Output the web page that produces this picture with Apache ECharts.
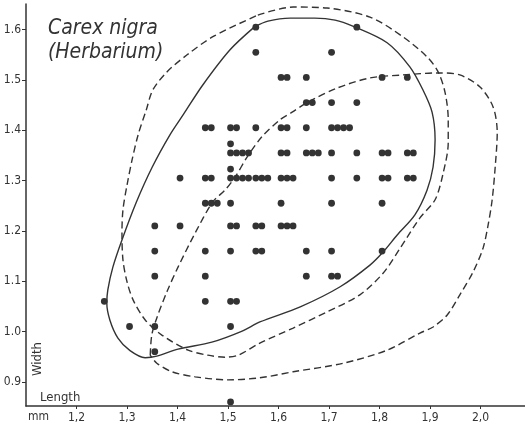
<!DOCTYPE html>
<html>
<head>
<meta charset="utf-8">
<script src="https://cdn.jsdelivr.net/npm/echarts@6/dist/echarts.min.js"></script>
<style>
  html, body { margin: 0; padding: 0; background: #fff; }
  #chart { width: 525px; height: 429px; }
</style>
</head>
<body>
<div id="chart"></div>
<script>
// Axis tick positions
const lengthTicks = [1.2, 1.3, 1.4, 1.5, 1.6, 1.7, 1.8, 1.9, 2.0];
const widthTicks = [0.9, 1.0, 1.1, 1.2, 1.3, 1.4, 1.5, 1.6];

// Measured seeds: [length mm, width mm, number of seeds with these dimensions]
const dots = [
  [1.555, 1.605, 1], [1.755, 1.605, 1],
  [1.555, 1.555, 1], [1.705, 1.555, 1],
  [1.605, 1.505, 2], [1.655, 1.505, 1], [1.805, 1.505, 1], [1.855, 1.505, 1],
  [1.655, 1.455, 2], [1.705, 1.455, 1], [1.755, 1.455, 1],
  [1.455, 1.405, 2], [1.505, 1.405, 2], [1.555, 1.405, 1], [1.605, 1.405, 2], [1.655, 1.405, 1], [1.705, 1.405, 4],
  [1.505, 1.373, 1],
  [1.505, 1.355, 4], [1.605, 1.355, 2], [1.655, 1.355, 3], [1.705, 1.355, 1], [1.755, 1.355, 1], [1.805, 1.355, 2], [1.855, 1.355, 2],
  [1.505, 1.323, 1],
  [1.405, 1.305, 1], [1.455, 1.305, 2], [1.505, 1.305, 4], [1.555, 1.305, 3], [1.605, 1.305, 3], [1.705, 1.305, 1], [1.755, 1.305, 1], [1.805, 1.305, 2], [1.855, 1.305, 2],
  [1.455, 1.255, 3], [1.505, 1.255, 1], [1.605, 1.255, 1], [1.705, 1.255, 1], [1.805, 1.255, 1],
  [1.355, 1.21, 1], [1.405, 1.21, 1], [1.505, 1.21, 2], [1.555, 1.21, 2], [1.605, 1.21, 3],
  [1.355, 1.16, 1], [1.455, 1.16, 1], [1.505, 1.16, 1], [1.555, 1.16, 2], [1.655, 1.16, 1], [1.705, 1.16, 1], [1.805, 1.16, 1],
  [1.355, 1.11, 1], [1.455, 1.11, 1], [1.655, 1.11, 1], [1.705, 1.11, 2],
  [1.255, 1.06, 1], [1.455, 1.06, 1], [1.505, 1.06, 2],
  [1.305, 1.01, 1], [1.355, 1.01, 1], [1.505, 1.01, 1],
  [1.355, 0.96, 1],
  [1.505, 0.86, 1]
];

// Envelope of the herbarium sample (solid outline)
const solidEnvelope = [
  [1.553, 1.606], [1.579, 1.617], [1.623, 1.623], [1.672, 1.623], [1.712, 1.619],
  [1.747, 1.607], [1.815, 1.574], [1.860, 1.526], [1.886, 1.480], [1.904, 1.436],
  [1.910, 1.381], [1.906, 1.327], [1.894, 1.281], [1.870, 1.232], [1.835, 1.192],
  [1.807, 1.158], [1.781, 1.132], [1.722, 1.089], [1.643, 1.049], [1.563, 1.019],
  [1.528, 1.001], [1.468, 0.979], [1.401, 0.965], [1.359, 0.951], [1.336, 0.948],
  [1.306, 0.962], [1.282, 0.987], [1.266, 1.023], [1.260, 1.057], [1.262, 1.083],
  [1.272, 1.128], [1.290, 1.182], [1.318, 1.256], [1.350, 1.327],
  [1.385, 1.391], [1.412, 1.432], [1.450, 1.490], [1.504, 1.560], [1.553, 1.606]
];

// Comparison envelope, upper left (dashed)
const dashedUpper = [
  [1.559, 1.629], [1.629, 1.645], [1.696, 1.643], [1.781, 1.625], [1.846, 1.586],
  [1.894, 1.546], [1.916, 1.516], [1.930, 1.474], [1.936, 1.421], [1.936, 1.375],
  [1.926, 1.315], [1.910, 1.262], [1.880, 1.226], [1.841, 1.166], [1.807, 1.116],
  [1.761, 1.073], [1.696, 1.039], [1.629, 1.007], [1.563, 0.977], [1.520, 0.953],
  [1.494, 0.949], [1.460, 0.953], [1.421, 0.963], [1.369, 0.993], [1.336, 1.023],
  [1.312, 1.063], [1.300, 1.099], [1.292, 1.142], [1.290, 1.196], [1.292, 1.242],
  [1.300, 1.291], [1.310, 1.341], [1.322, 1.391], [1.338, 1.440], [1.351, 1.480],
  [1.379, 1.516], [1.419, 1.550], [1.470, 1.586], [1.559, 1.629]
];

// Comparison envelope, lower right (dashed)
const dashedLower = [
  [1.346, 0.953], [1.349, 0.993], [1.359, 1.027], [1.379, 1.079], [1.401, 1.128],
  [1.435, 1.196], [1.470, 1.258], [1.494, 1.281], [1.514, 1.307], [1.538, 1.347],
  [1.567, 1.387], [1.603, 1.421], [1.627, 1.436], [1.658, 1.456], [1.716, 1.484],
  [1.781, 1.504], [1.846, 1.510], [1.916, 1.514], [1.959, 1.510], [1.999, 1.486],
  [2.025, 1.446], [2.033, 1.395], [2.029, 1.327], [2.023, 1.262], [2.015, 1.212],
  [2.005, 1.166], [1.985, 1.118], [1.959, 1.073], [1.934, 1.033], [1.906, 1.009],
  [1.880, 0.997], [1.815, 0.963], [1.728, 0.937], [1.629, 0.920], [1.563, 0.908],
  [1.500, 0.904], [1.435, 0.910], [1.389, 0.920], [1.359, 0.937], [1.346, 0.953]
];

const INK = '#333';
const FONT = "'DejaVu Sans Condensed', 'Liberation Sans Narrow', 'DejaVu Sans', sans-serif";
const DOT_STEP = 6;   // horizontal spacing between seeds of equal size
const DOT_R = 3.4;

const chart = echarts.init(document.getElementById('chart'), null, { renderer: 'canvas' });

const envelopeSeries = (data, dashed) => ({
  type: 'line',
  data: data,
  smooth: 0.3,
  symbol: 'none',
  silent: true,
  lineStyle: { color: INK, width: 1.4, type: dashed ? [7, 4] : 'solid' },
  z: 2
});

chart.setOption({
  animation: false,
  backgroundColor: '#fff',
  title: {
    text: 'Carex nigra\n(Herbarium)',
    left: 43,
    top: 12,
    textStyle: {
      fontFamily: FONT, fontStyle: 'italic', fontWeight: 'normal',
      fontSize: 21, lineHeight: 24, color: INK
    }
  },
  grid: { left: 26, right: 0, top: 4, bottom: 23, containLabel: false },
  xAxis: {
    type: 'value', min: 1.1, max: 2.088,
    axisLine: { show: true, lineStyle: { color: INK, width: 1.5 } },
    axisTick: { show: true, customValues: lengthTicks, length: 3, lineStyle: { color: INK } },
    axisLabel: {
      customValues: lengthTicks, margin: 6, color: INK, fontFamily: FONT, fontSize: 12,
      formatter: v => v.toFixed(1).replace('.', ',')
    },
    splitLine: { show: false }
  },
  yAxis: {
    type: 'value', min: 0.852, max: 1.651,
    axisLine: { show: true, lineStyle: { color: INK, width: 1.5 } },
    axisTick: { show: true, customValues: widthTicks, length: 4, lineStyle: { color: INK } },
    axisLabel: {
      customValues: widthTicks, margin: 5, color: INK, fontFamily: FONT, fontSize: 12,
      formatter: v => v.toFixed(1)
    },
    splitLine: { show: false }
  },
  graphic: [
    { type: 'text', left: 28, top: 411, style: { text: 'mm', font: '12px ' + FONT, fill: INK } },
    { type: 'text', left: 40, top: 391, style: { text: 'Length', font: '13px ' + FONT, fill: INK } },
    { type: 'text', x: 38, y: 359, rotation: Math.PI / 2,
      style: { text: 'Width', font: '13px ' + FONT, fill: INK, align: 'center', verticalAlign: 'middle' } }
  ],
  series: [
    envelopeSeries(solidEnvelope, false),
    envelopeSeries(dashedUpper, true),
    envelopeSeries(dashedLower, true),
    {
      type: 'custom',
      data: dots,
      encode: { x: 0, y: 1 },
      z: 3,
      renderItem: (params, api) => {
        const c = api.coord([api.value(0), api.value(1)]);
        const n = api.value(2);
        const children = [];
        for (let i = 0; i < n; i++) {
          children.push({
            type: 'circle',
            shape: { cx: c[0] + i * DOT_STEP, cy: c[1], r: DOT_R },
            style: { fill: INK }
          });
        }
        return { type: 'group', children };
      }
    }
  ]
});
</script>
</body>
</html>
